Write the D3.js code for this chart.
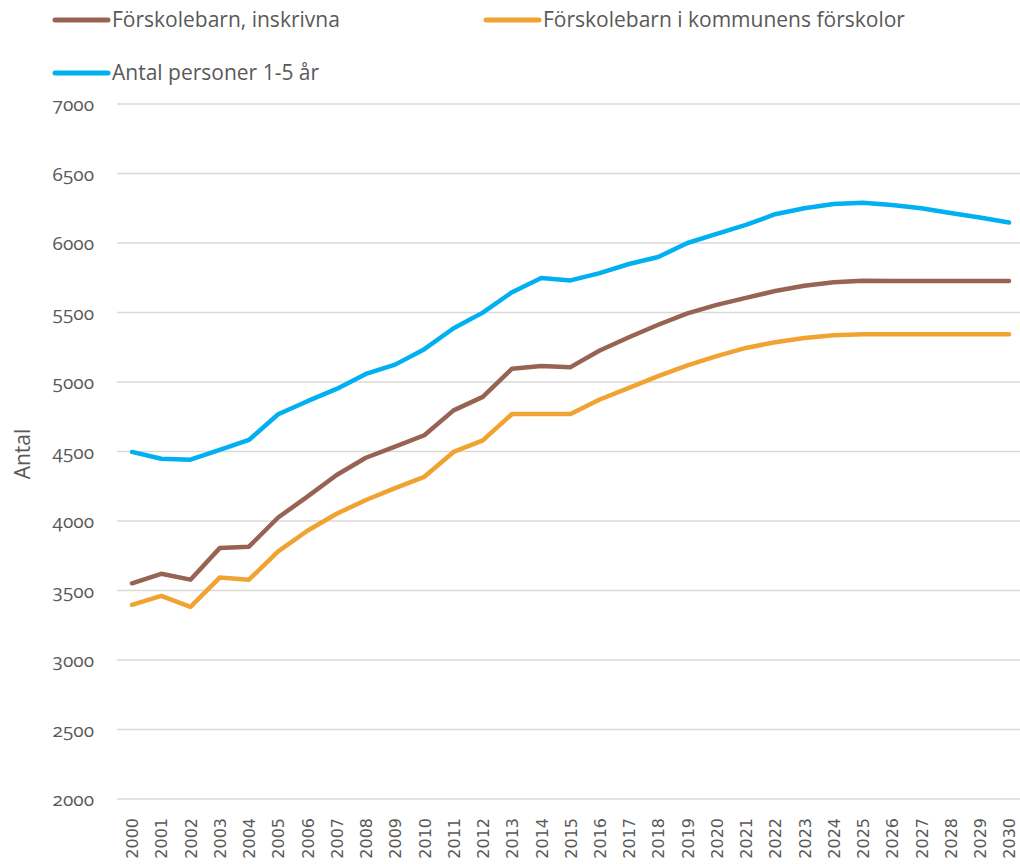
<!DOCTYPE html>
<html>
<head>
<meta charset="utf-8">
<script src="https://cdn.jsdelivr.net/npm/d3@7"></script>
<style>
  body { margin: 0; background: #fff; }
  svg text { fill: #595959; }
  .ytick text { font-family: "Open Sans", "Noto Sans", sans-serif; font-variant-numeric: oldstyle-nums; }
</style>
</head>
<body>
<div id="chart"></div>
<script>
// years on the x axis
var years = d3.range(2000, 2031);

// series values
var inskrivna = [3552, 3620, 3578, 3805, 3815, 4025, 4175, 4331, 4455, 4535, 4617,
  4796, 4893, 5096, 5115, 5107, 5227, 5322, 5412, 5494, 5555, 5605, 5655, 5693, 5717,
  5728, 5727, 5727, 5727, 5727, 5727];
var kommunens = [3397, 3462, 3382, 3593, 3578, 3781, 3930, 4052, 4151, 4236, 4318,
  4497, 4580, 4770, 4770, 4770, 4874, 4958, 5042, 5120, 5186, 5245, 5286, 5316, 5336,
  5344, 5343, 5343, 5343, 5343, 5343];
var personer = [4497, 4448, 4441, 4511, 4583, 4768, 4862, 4950, 5058, 5125, 5236,
  5387, 5499, 5646, 5748, 5731, 5783, 5849, 5899, 6000, 6066, 6130, 6207, 6250, 6281,
  6290, 6273, 6250, 6216, 6183, 6147];

var seriesNames = ["Förskolebarn, inskrivna", "Förskolebarn i kommunens förskolor", "Antal personer 1-5 år"];
var seriesColors = ["#976453", "#F0A330", "#00B0F0"];
var yTicks = [2000, 2500, 3000, 3500, 4000, 4500, 5000, 5500, 6000, 6500, 7000];

var width = 1020, height = 864;
var margin = {top: 104, right: 11, bottom: 65, left: 132};

var svg = d3.select("#chart").append("svg")
  .attr("width", width)
  .attr("height", height);

var x = d3.scaleLinear()
  .domain([2000, 2030])
  .range([margin.left, width - margin.right]);

var y = d3.scaleLinear()
  .domain([2000, 7000])
  .range([height - margin.bottom, margin.top]);

// gridlines
svg.append("g")
  .selectAll("line")
  .data(yTicks)
  .join("line")
  .attr("x1", 117)
  .attr("x2", width)
  .attr("y1", d => y(d))
  .attr("y2", d => y(d))
  .attr("stroke", "#d9d9d9")
  .attr("stroke-width", 1.3);

// y axis labels
var yAxis = svg.append("g")
  .attr("class", "ytick")
  .attr("transform", "translate(94,0)")
  .call(d3.axisLeft(y).tickValues(yTicks).tickFormat(d3.format("d")).tickSize(0).tickPadding(0));
yAxis.select(".domain").remove();
yAxis.selectAll("text")
  .attr("font-size", 19)
  .attr("dy", "0.35em")
  .style("fill", "#595959");

// x axis labels (rotated)
var xAxis = svg.append("g")
  .attr("transform", "translate(0," + (height - margin.bottom) + ")")
  .call(d3.axisBottom(x).tickValues(years).tickFormat(d3.format("d")).tickSize(0));
xAxis.select(".domain").remove();
xAxis.selectAll("text")
  .attr("font-family", "DejaVu Sans, sans-serif")
  .attr("font-size", 16)
  .style("fill", "#595959")
  .attr("text-anchor", "end")
  .attr("transform", "rotate(-90)")
  .attr("x", -19)
  .attr("y", 0)
  .attr("dy", "0.36em");

// y title
svg.append("text")
  .attr("transform", "translate(30,454) rotate(-90)")
  .attr("text-anchor", "middle")
  .attr("font-family", "Open Sans, sans-serif")
  .attr("font-size", 21)
  .text("Antal");

var line = d3.line()
  .x((d, i) => x(years[i]))
  .y(d => y(d));

var allSeries = [inskrivna, kommunens, personer];

svg.append("g")
  .selectAll("path")
  .data(allSeries)
  .join("path")
  .attr("d", d => line(d))
  .attr("fill", "none")
  .attr("stroke", (d, i) => seriesColors[i])
  .attr("stroke-width", 4.5)
  .attr("stroke-linecap", "round")
  .attr("stroke-linejoin", "round");

// legend
var legendPos = [{x: 55, y: 20}, {x: 486, y: 20}, {x: 55, y: 73}];
var legend = svg.append("g")
  .selectAll("g")
  .data(seriesNames)
  .join("g")
  .attr("transform", (d, i) => "translate(" + legendPos[i].x + "," + legendPos[i].y + ")");

legend.append("line")
  .attr("x1", 0)
  .attr("x2", 53)
  .attr("stroke", (d, i) => seriesColors[i])
  .attr("stroke-width", 5)
  .attr("stroke-linecap", "round");

legend.append("text")
  .attr("x", 57)
  .attr("dy", "0.35em")
  .attr("font-family", "Open Sans, sans-serif")
  .attr("font-size", 21)
  .text(d => d);
</script>
</body>
</html>
